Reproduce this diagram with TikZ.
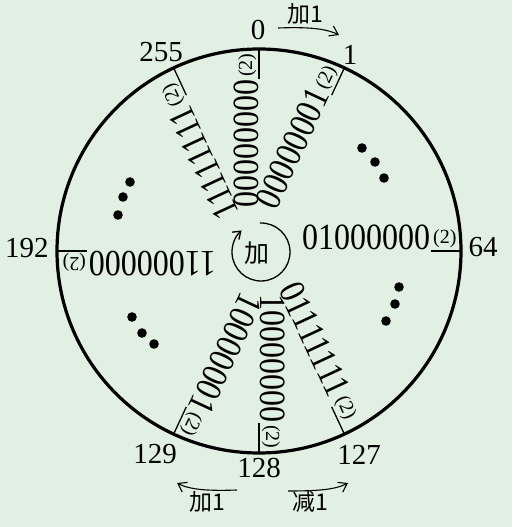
\documentclass[tikz,border=0pt]{standalone}
\usepackage{fontspec}
\setmainfont{Liberation Serif}
\newfontfamily\binfont[FakeStretch=0.865]{Liberation Serif}
\newfontfamily\cjk{Noto Sans CJK SC}
\usetikzlibrary{arrows.meta,calc}
\definecolor{bgc}{RGB}{226,240,228}
\newcommand{\twosub}{\hspace{3pt}\raisebox{6pt}{\normalfont\fontsize{20}{20}\selectfont(2)}}
\begin{document}
\begin{tikzpicture}[x=1pt,y=1pt,
  bin/.style={font=\binfont\fontsize{37}{37}\selectfont, inner sep=0pt, anchor=base west},
  num/.style={font=\fontsize{29}{29}\selectfont, inner sep=0pt},
  cj/.style={font=\cjk\fontsize{23}{23}\selectfont, inner sep=0pt},
  tickline/.style={line width=1.3pt},
  arr/.style={line width=1.1pt, -{Straight Barb[length=8pt,width=11pt]}}]
\fill[bgc] (0,0) rectangle (512,527);
\useasboundingbox (0,0) rectangle (512,527);
\coordinate (C) at (259,276);
\draw[line width=3.2pt] (C) circle[radius=202];
\foreach \a/\t in {90/00000000, 65/00000001, 115/11111111, 0/01000000, 180/11000000, 295/01111111, 270/10000000, 245/10000001}{
  \draw[tickline] ($(C)+(\a:172)$) -- ($(C)+(\a:203)$);
  \node[bin, rotate=\a] (b\a) at ($(C)+(\a:43)+({\a+90}:1)$) {\t\twosub};
}
% outer numbers
\node[num] (n0) at (258,497) {0};
\node[num] (n1) at (350,472) {1};
\node[num] (n255) at (161,475) {255};
\node[num] (n64) at (483,280) {64};
\node[num] (n192) at (27,279) {192};
\node[num] (n127) at (359,72) {127};
\node[num] (n128) at (259,59) {128};
\node[num] (n129) at (155,73) {129};
% centre
\coordinate (C2) at (261,275);
\node[font=\cjk\fontsize{25}{25}\selectfont, inner sep=0pt] (add) at (257,273.5) {加};
\draw[line width=1.3pt, -{Straight Barb[length=7pt,width=10pt]}] ($(C2)+(92:29)$) arc[start angle=92, end angle=-228, radius=29];
% arrows with labels
\node[cj] (t1) at (305,513) {加1};
\coordinate (ta) at (278,499);
\coordinate (tb) at (339,492);
\draw[arr] (ta) .. controls (305,500) and (325,499) .. (tb);
\node[cj] (l1) at (207,25) {加1};
\coordinate (la) at (237,37);
\coordinate (lb) at (177,44);
\draw[arr] (la) .. controls (210,36) and (190,37) .. (lb);
\node[cj] (r1) at (310,25) {减1};
\coordinate (ra) at (288,36);
\coordinate (rb) at (348,44);
\draw[arr] (ra) .. controls (315,36) and (335,37) .. (rb);
% dots
\foreach \p in {(362,379),(375,365),(384,349),(130,345),(123,330),(118,312),(132,210),(142,194),(154,183),(399,240),(395,223),(386,206)}
  \fill \p circle[radius=4.8];
\end{tikzpicture}
\end{document}
